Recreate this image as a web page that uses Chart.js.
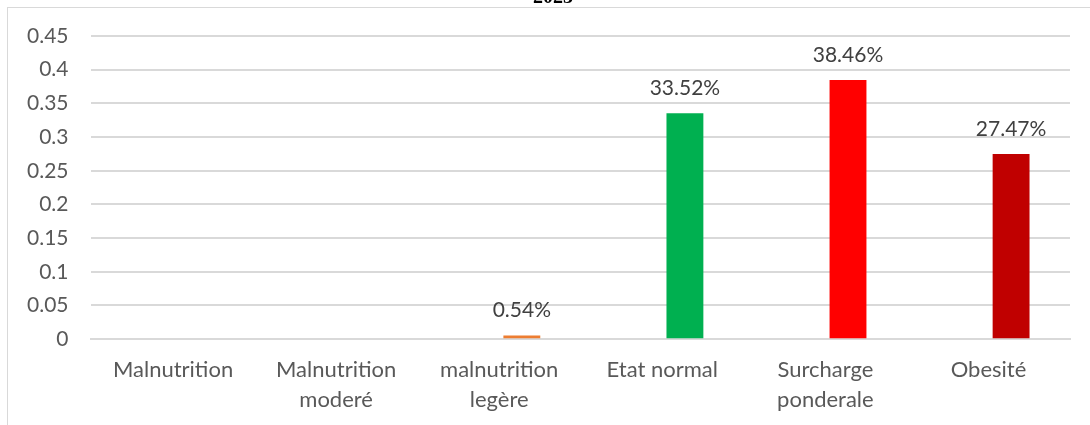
<!DOCTYPE html>
<html>
<head>
<meta charset="utf-8">
<script src="https://cdn.jsdelivr.net/npm/chart.js@4"></script>
<style>
  body { margin: 0; background: #fff; }
  #frame { position: absolute; left: 7px; top: 7px; width: 1083px; height: 418px;
           border-left: 1px solid #d9d9d9; border-top: 1px solid #d9d9d9; }
  #wrap { position: absolute; left: 0; top: 0; width: 1090px; height: 425px; }
</style>
</head>
<body>
<div id="frame"></div>
<div id="wrap"><canvas id="bmiChart"></canvas></div>
<script>
const categories = ['Malnutrition', ['Malnutrition', 'moderé'], ['malnutrition', 'legère'], 'Etat normal', ['Surcharge', 'ponderale'], 'Obesité'];
// first series is empty in the source, the values sit in the second slot of each group
const emptySeries = [null, null, null, null, null, null];
const shares = [0, 0, 0.0054, 0.3352, 0.3846, 0.2747];
const barColors = ['#ED7D31', '#ED7D31', '#ED7D31', '#00B050', '#FF0000', '#C00000'];
const yTicks = [0, 0.05, 0.1, 0.15, 0.2, 0.25, 0.3, 0.35, 0.4, 0.45];
const titleText = '2023';

// percent labels over the bars, skip empty ones
const valueLabels = {
    id: 'valueLabels',
    afterDatasetsDraw(chart) {
        const ctx = chart.ctx;
        const meta = chart.getDatasetMeta(1);
        ctx.save();
        ctx.font = '21px Lato';
        ctx.fillStyle = '#404040';
        ctx.textAlign = 'center';
        ctx.textBaseline = 'middle';
        meta.data.forEach((bar, i) => {
            if (!shares[i]) return;
            ctx.fillText((shares[i] * 100).toFixed(2) + '%', bar.x, bar.y - 25);
        });
        ctx.restore();
    }
};

// title sits mostly above the visible area
const cutTitle = {
    id: 'cutTitle',
    afterDraw(chart) {
        const ctx = chart.ctx;
        ctx.save();
        ctx.font = 'bold 20px "Liberation Serif"';
        ctx.fillStyle = '#000';
        ctx.textAlign = 'center';
        ctx.textBaseline = 'alphabetic';
        ctx.fillText(titleText, 553, 3);
        ctx.restore();
    }
};

const ctx = document.getElementById('bmiChart').getContext('2d');
new Chart(ctx, {
    type: 'bar',
    data: {
        labels: categories,
        datasets: [{
            data: emptySeries,
            backgroundColor: '#4472C4',
            barPercentage: 0.815,
            categoryPercentage: 0.555
        }, {
            data: shares,
            backgroundColor: barColors,
            barPercentage: 0.815,
            categoryPercentage: 0.555
        }]
    },
    options: {
        responsive: true,
        maintainAspectRatio: false,
        animation: false,
        layout: { padding: { left: 4, right: 20, top: 36, bottom: -6 } },
        plugins: {
            legend: { display: false },
            tooltip: { enabled: false }
        },
        scales: {
            x: {
                grid: { display: false, drawTicks: false },
                border: { color: '#d9d9d9', width: 2 },
                ticks: {
                    color: '#595959',
                    font: { family: 'Lato', size: 22, lineHeight: 1.36 },
                    padding: 16,
                    maxRotation: 0,
                    autoSkip: false
                }
            },
            y: {
                min: 0,
                max: 0.45,
                afterBuildTicks(axis) {
                    axis.ticks = yTicks.map(v => ({ value: v }));
                },
                grid: { color: '#d9d9d9', lineWidth: 2, drawTicks: false },
                border: { display: false },
                ticks: {
                    color: '#595959',
                    font: { family: 'Lato', size: 21 },
                    padding: 23,
                    callback: v => String(+v.toFixed(2))
                }
            }
        }
    },
    plugins: [valueLabels, cutTitle]
});
</script>
</body>
</html>
